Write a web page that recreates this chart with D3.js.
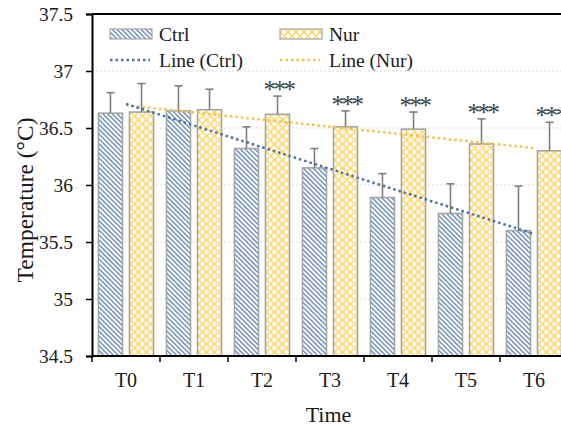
<!DOCTYPE html>
<html>
<head>
<meta charset="utf-8">
<script src="https://cdn.jsdelivr.net/npm/d3@7"></script>
<style>
  body { margin: 0; background: #fff; }
  svg text { font-family: "Liberation Serif", "Times New Roman", serif; }
</style>
</head>
<body>
<script>
// dati
var categories = ["T0", "T1", "T2", "T3", "T4", "T5", "T6"];
var series = ["Ctrl", "Nur"];
var ctrlMean = [36.63, 36.65, 36.32, 36.15, 35.89, 35.75, 35.60];
var ctrlErr  = [0.18, 0.22, 0.19, 0.17, 0.21, 0.26, 0.39];
var nurMean  = [36.64, 36.66, 36.62, 36.51, 36.49, 36.36, 36.30];
var nurErr   = [0.25, 0.18, 0.16, 0.14, 0.15, 0.22, 0.25];
var signif   = ["", "", "***", "***", "***", "***", "***"];
var yTicks   = [34.5, 35, 35.5, 36, 36.5, 37, 37.5];

var width = 561, height = 429;
var margin = {top: 14, left: 92, bottom: 73};

var svg = d3.select("body").append("svg")
    .attr("width", width)
    .attr("height", height);

var defs = svg.append("defs");

// tratteggio diagonale per Ctrl
var pc = defs.append("pattern")
    .attr("id", "hatchCtrl")
    .attr("patternUnits", "userSpaceOnUse")
    .attr("width", 3.4).attr("height", 3.4)
    .attr("patternTransform", "rotate(-45)");
pc.append("rect").attr("width", 3.4).attr("height", 3.4).attr("fill", "#fff");
pc.append("line")
    .attr("x1", 0.7).attr("y1", 0).attr("x2", 0.7).attr("y2", 3.4)
    .attr("stroke", "#5b80b2").attr("stroke-width", 1.3);

// reticolo a rombi per Nur
var pn = defs.append("pattern")
    .attr("id", "hatchNur")
    .attr("patternUnits", "userSpaceOnUse")
    .attr("width", 8).attr("height", 8);
pn.append("rect").attr("width", 8).attr("height", 8).attr("fill", "#fff");
pn.append("path")
    .attr("d", "M0,0L8,8M8,0L0,8M-1,7L1,9M7,-1L9,1M-1,1L1,-1M7,9L9,7")
    .attr("stroke", "#ffd04d").attr("stroke-width", 1.3);

var x = d3.scaleBand()
    .domain(categories)
    .range([margin.left, margin.left + 68 * categories.length])
    .paddingInner(0.19)
    .paddingOuter(0.095);

var xs = d3.scaleBand()
    .domain(series)
    .range([0, x.bandwidth()])
    .paddingInner(0.2258);

var y = d3.scaleLinear()
    .domain([34.5, 37.5])
    .range([height - margin.bottom, margin.top]);

var step = x.step();

// griglia
svg.append("g").selectAll("line")
    .data(yTicks.filter(function(d){ return d > 34.5 && d < 37.5; }))
    .enter().append("line")
    .attr("x1", margin.left).attr("x2", width)
    .attr("y1", function(d){ return y(d); })
    .attr("y2", function(d){ return y(d); })
    .attr("stroke", "#d9d9d9")
    .attr("stroke-dasharray", "2,2");

// linea superiore
svg.append("line")
    .attr("x1", margin.left).attr("x2", width)
    .attr("y1", y(37.5)).attr("y2", y(37.5))
    .attr("stroke", "#000").attr("stroke-width", 1.8);

var rows = categories.map(function(c, i){
    return [
        {cat: c, s: "Ctrl", v: ctrlMean[i], e: ctrlErr[i]},
        {cat: c, s: "Nur", v: nurMean[i], e: nurErr[i]}
    ];
});

var groups = svg.append("g").selectAll("g")
    .data(rows)
    .enter().append("g")
    .attr("transform", function(d){ return "translate(" + x(d[0].cat) + ",0)"; });

var bars = groups.selectAll("g")
    .data(function(d){ return d; })
    .enter().append("g");

// barre
bars.append("rect")
    .attr("x", function(d){ return xs(d.s); })
    .attr("width", xs.bandwidth())
    .attr("y", function(d){ return y(d.v); })
    .attr("height", function(d){ return y(34.5) - y(d.v); })
    .attr("fill", function(d){ return d.s == "Ctrl" ? "url(#hatchCtrl)" : "url(#hatchNur)"; })
    .attr("stroke", "#a6a6a6")
    .attr("stroke-width", 1.6);

// barre di errore (solo verso l'alto)
bars.append("line")
    .attr("x1", function(d){ return xs(d.s) + xs.bandwidth() / 2; })
    .attr("x2", function(d){ return xs(d.s) + xs.bandwidth() / 2; })
    .attr("y1", function(d){ return y(d.v); })
    .attr("y2", function(d){ return y(d.v + d.e); })
    .attr("stroke", "#7f7f7f").attr("stroke-width", 1.6);
bars.append("line")
    .attr("x1", function(d){ return xs(d.s) + xs.bandwidth() / 2 - 4; })
    .attr("x2", function(d){ return xs(d.s) + xs.bandwidth() / 2 + 4; })
    .attr("y1", function(d){ return y(d.v + d.e); })
    .attr("y2", function(d){ return y(d.v + d.e); })
    .attr("stroke", "#7f7f7f").attr("stroke-width", 1.6);

// asterischi
svg.append("g").selectAll("text")
    .data(categories)
    .enter().append("text")
    .attr("x", function(c, i){ return x(c) + xs("Nur") + xs.bandwidth() / 2 + 1; })
    .attr("y", function(c, i){ return y(nurMean[i] + nurErr[i]) + 2; })
    .attr("text-anchor", "middle")
    .attr("font-size", 25)
    .attr("letter-spacing", -2.5)
    .attr("fill", "#404040")
    .text(function(c, i){ return signif[i]; });

// linee di tendenza (regressione lineare)
function trend(values) {
    var n = values.length;
    var mx = d3.mean(values, function(v, i){ return i; });
    var my = d3.mean(values);
    var num = d3.sum(values, function(v, i){ return (i - mx) * (v - my); });
    var den = d3.sum(values, function(v, i){ return (i - mx) * (i - mx); });
    var b = num / den, a = my - b * mx;
    return [0, n - 1].map(function(i){ return [i, a + b * i]; });
}

var line = d3.line()
    .x(function(p){ return x(categories[p[0]]) + x.bandwidth() / 2; })
    .y(function(p){ return y(p[1]); });

svg.append("path")
    .attr("d", line(trend(nurMean)))
    .attr("fill", "none")
    .attr("stroke", "#f5c242").attr("stroke-width", 2.5)
    .attr("stroke-dasharray", "2.5,3");
svg.append("path")
    .attr("d", line(trend(ctrlMean)))
    .attr("fill", "none")
    .attr("stroke", "#4a72a5").attr("stroke-width", 2.5)
    .attr("stroke-dasharray", "2.5,3");

// asse y
var yAxis = svg.append("g")
    .attr("transform", "translate(" + margin.left + ",0)")
    .call(d3.axisLeft(y).tickValues(yTicks).tickSize(6).tickPadding(13)
        .tickFormat(function(d){ return String(+d.toFixed(1)); }));
yAxis.select(".domain").attr("stroke", "#000").attr("stroke-width", 2);
yAxis.selectAll(".tick line").attr("stroke", "#000").attr("stroke-width", 1.5);
yAxis.selectAll("text")
    .attr("font-size", 19.5)
    .attr("font-family", "Liberation Serif, Times New Roman, serif")
    .attr("fill", "#1a1a1a");

// asse x
var xAxis = svg.append("g")
    .attr("transform", "translate(0," + y(34.5) + ")")
    .call(d3.axisBottom(x).tickSize(0).tickPadding(17));
xAxis.select(".domain").remove();
xAxis.selectAll("text")
    .attr("font-size", 20)
    .attr("font-family", "Liberation Serif, Times New Roman, serif")
    .attr("fill", "#1a1a1a");
xAxis.append("line")
    .attr("x1", margin.left).attr("x2", width)
    .attr("stroke", "#000").attr("stroke-width", 2);
xAxis.selectAll(".sep")
    .data(d3.range(categories.length + 1))
    .enter().append("line")
    .attr("class", "sep")
    .attr("x1", function(i){ return margin.left + i * step; })
    .attr("x2", function(i){ return margin.left + i * step; })
    .attr("y1", 0).attr("y2", 6)
    .attr("stroke", "#000").attr("stroke-width", 1.5);

// titoli assi
svg.append("text")
    .attr("x", (margin.left + width) / 2 + 2)
    .attr("y", 422)
    .attr("text-anchor", "middle")
    .attr("font-size", 22)
    .attr("fill", "#1a1a1a")
    .text("Time");

svg.append("text")
    .attr("transform", "translate(33,200) rotate(-90)")
    .attr("text-anchor", "middle")
    .attr("font-size", 23.5)
    .attr("fill", "#1a1a1a")
    .text("Temperature (°C)");

// legenda
var legend = svg.append("g");
var legItems = [
    {label: "Ctrl", kind: "bar", fill: "url(#hatchCtrl)", x: 110, y: 34},
    {label: "Nur", kind: "bar", fill: "url(#hatchNur)", x: 280, y: 34},
    {label: "Line (Ctrl)", kind: "line", color: "#4a72a5", x: 110, y: 60},
    {label: "Line (Nur)", kind: "line", color: "#f5c242", x: 280, y: 60}
];
legItems.forEach(function(it){
    if (it.kind == "bar") {
        legend.append("rect")
            .attr("x", it.x).attr("y", it.y - 5)
            .attr("width", 42).attr("height", 10)
            .attr("fill", it.fill)
            .attr("stroke", "#a6a6a6").attr("stroke-width", 1.2);
    } else {
        legend.append("line")
            .attr("x1", it.x).attr("x2", it.x + 40)
            .attr("y1", it.y).attr("y2", it.y)
            .attr("stroke", it.color).attr("stroke-width", 2.5)
            .attr("stroke-dasharray", "2.5,3");
    }
    legend.append("text")
        .attr("x", it.x + 49)
        .attr("y", it.y + 6.5)
        .attr("font-size", 19.5)
        .attr("fill", "#1a1a1a")
        .text(it.label);
});
</script>
</body>
</html>
